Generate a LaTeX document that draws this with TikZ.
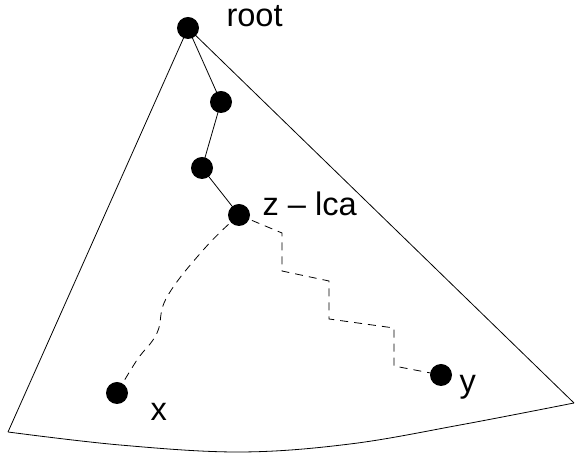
\documentclass[tikz,border=0pt]{standalone}
\usepackage{fontspec}
\setmainfont{Liberation Sans}
\usetikzlibrary{backgrounds}
\begin{document}
\begin{tikzpicture}[x=0.5pt,y=-0.5pt,line width=0.5pt,
  dot/.style={circle,fill=black,inner sep=0pt,minimum size=11pt},
  lbl/.style={anchor=base west,inner sep=0pt,font=\fontsize{16.3}{19}\selectfont},
  dsh/.style={dash pattern=on 4pt off 3pt}]
\useasboundingbox (0,0) rectangle (579,458);
% nodes
\node[dot] (root) at (188,28) {};
\node[dot] (n1) at (221,102) {};
\node[dot] (n2) at (202,168) {};
\node[dot] (z) at (239,215) {};
\node[dot] (x) at (117,393) {};
\node[dot] (y) at (441,375) {};
\coordinate (bl) at (8,432);
\coordinate (br) at (574,403);
% labels
\node[lbl] (lroot) at (226,27) {root};
\node[lbl] (lz) at (262,216) {z – lca};
\node[lbl] (lx) at (150,421) {x};
\node[lbl] (ly) at (459,393) {y};
\begin{scope}[on background layer]
% outer triangle
\draw (root.center) -- (bl);
\draw (root.center) -- (br);
\draw plot[smooth,tension=0.6] coordinates {(bl) (120,445) (240,452) (350,444) (460,425) (br)};
% dashed paths
\draw[dsh] (z.center) -- (282,233) -- (282,271) -- (329,281) -- (329,319) -- (394,328) -- (394,366) -- (y.center);
\draw[dsh] plot[smooth,tension=0.7] coordinates {(z.center) (205,248) (167,297) (157,333) (137,360) (x.center)};
% tree path
\draw (root.center) -- (n1.center) -- (n2.center) -- (z.center);
\end{scope}
\end{tikzpicture}
\end{document}
